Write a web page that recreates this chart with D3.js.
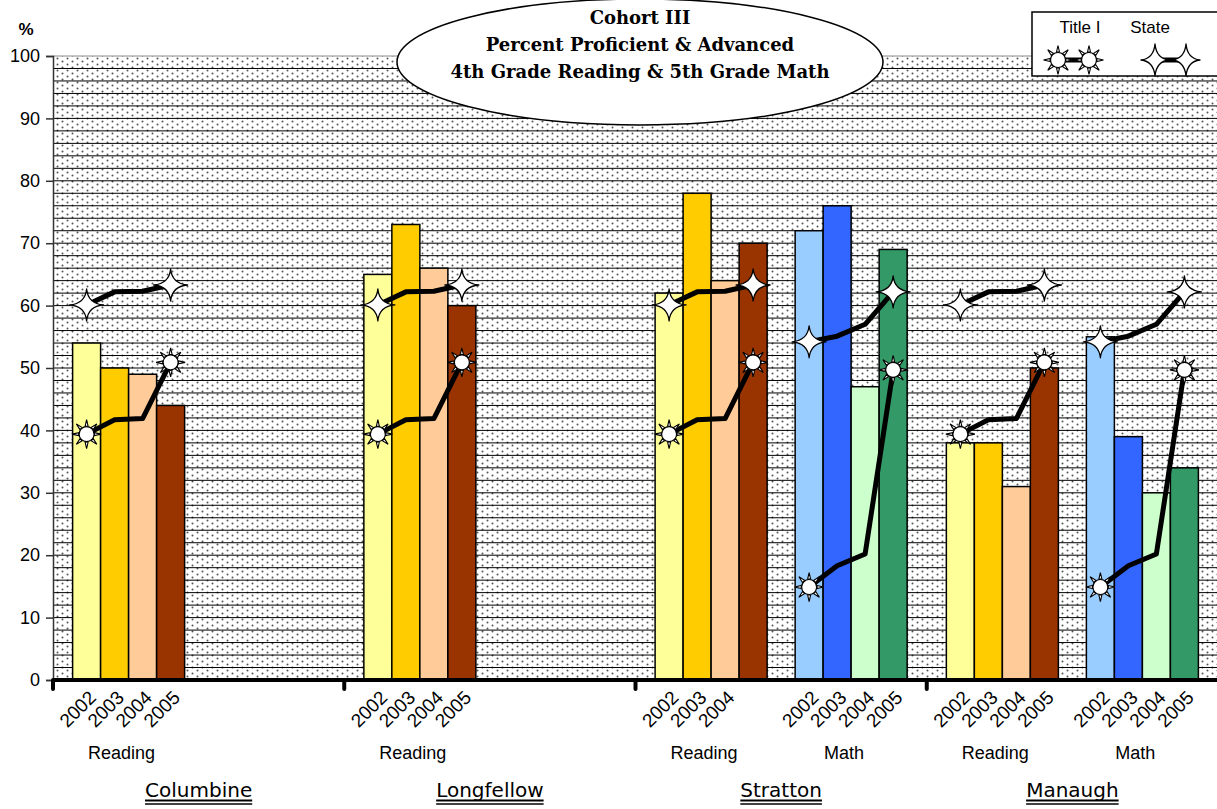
<!DOCTYPE html>
<html>
<head>
<meta charset="utf-8">
<script src="https://cdn.jsdelivr.net/npm/d3@7"></script>
<style>
  body { margin: 0; background: #fff; }
  svg { display: block; }
</style>
</head>
<body>
<svg id="chart" width="1217" height="809"></svg>
<script>
// ---- data ----
const schools = ["Columbine", "Longfellow", "Stratton", "Manaugh"];
const years = ["2002", "2003", "2004", "2005"];
const subjects = ["Reading", "Math"];

// percent proficient & advanced, per school, 2002-2005 (null = not tested)
const readingValues = [
  [54, 50, 49, 44],
  [65, 73, 66, 60],
  [62, 78, 64, 70],
  [38, 38, 31, 50]
];
const mathValues = [
  null,
  null,
  [72, 76, 47, 69],
  [55, 39, 30, 34]
];

// comparison lines (same for every school)
const titleIReading = [39.4, 41.7, 41.9, 50.9];
const stateReading = [60.1, 62.2, 62.3, 63.3];
const titleIMath = [14.9, 18.3, 20.2, 49.7];
const stateMath = [54.2, 55.1, 57.0, 62.2];

// year labels printed under each bar group
const readingYearLabels = [years, years, ["2002", "2003", "2004"], years];
const mathYearLabels = [[], [], years, years];

const readingColors = ["#FFFF99", "#FFCC00", "#FFCC99", "#993300"];
const mathColors = ["#99CCFF", "#3366FF", "#CCFFCC", "#339966"];

const yTicks = [0, 10, 20, 30, 40, 50, 60, 70, 80, 90, 100];
const titleLines = ["Cohort III", "Percent Proficient & Advanced", "4th Grade Reading & 5th Grade Math"];
const legendLabels = ["Title I", "State"];

// ---- layout ----
const svg = d3.select("#chart");
const plotL = 53, plotT = 56, plotR = 1218, plotB = 680;

const y = d3.scaleLinear().domain([0, 100]).range([plotB, plotT]);
const xSchool = d3.scaleBand().domain(schools).range([plotL, plotR]).padding(0);
const slots = ["R0", "R1", "R2", "R3", "gap", "M0", "M1", "M2", "M3"];
const xSlot = d3.scaleBand().domain(slots).range([0, xSchool.bandwidth()])
  .paddingInner(0).paddingOuter(0.7);
const bw = xSlot.bandwidth();
const slotCenter = (si, prefix, i) => xSchool(schools[si]) + xSlot(prefix + i) + bw / 2;

// ---- background pattern ----
const defs = svg.append("defs");
const pat = defs.append("pattern").attr("id", "dots")
  .attr("width", 10).attr("height", 6).attr("patternUnits", "userSpaceOnUse");
pat.append("rect").attr("width", 10).attr("height", 6).attr("fill", "#fff");
pat.append("circle").attr("cx", 2.5).attr("cy", 1.5).attr("r", 1).attr("fill", "#555");
pat.append("circle").attr("cx", 7.5).attr("cy", 4.5).attr("r", 1).attr("fill", "#555");

svg.append("rect").attr("x", plotL).attr("y", plotT)
  .attr("width", plotR - plotL).attr("height", plotB - plotT)
  .attr("fill", "url(#dots)");

// gridlines every 2 %
svg.append("g").selectAll("line")
  .data(d3.range(2, 100, 2))
  .join("line")
  .attr("x1", plotL).attr("x2", plotR)
  .attr("y1", d => y(d)).attr("y2", d => y(d))
  .attr("stroke", "#000").attr("stroke-width", 1);
svg.append("line").attr("x1", plotL).attr("x2", plotR)
  .attr("y1", plotT).attr("y2", plotT).attr("stroke", "#888").attr("stroke-width", 1);

// ---- bars ----
const barData = [];
schools.forEach((s, si) => {
  readingValues[si].forEach((v, i) => barData.push({ si, x: xSchool(s) + xSlot("R" + i), v, c: readingColors[i] }));
  if (mathValues[si]) mathValues[si].forEach((v, i) => barData.push({ si, x: xSchool(s) + xSlot("M" + i), v, c: mathColors[i] }));
});
svg.append("g").selectAll("rect")
  .data(barData)
  .join("rect")
  .attr("x", d => d.x).attr("y", d => y(d.v))
  .attr("width", bw).attr("height", d => y(0) - y(d.v))
  .attr("fill", d => d.c).attr("stroke", "#000").attr("stroke-width", 1.5);

// ---- y axis ----
const font = "Liberation Sans, Arial, sans-serif";
const yAxis = svg.append("g").attr("transform", `translate(${plotL},0)`)
  .call(d3.axisLeft(y).tickValues(yTicks).tickSize(7).tickPadding(6));
yAxis.select(".domain").attr("stroke", "#333").attr("stroke-width", 1.5);
yAxis.selectAll(".tick line").attr("stroke", "#333").attr("stroke-width", 1.5);
yAxis.selectAll(".tick text").attr("font-family", font)
  .attr("font-size", 18).attr("fill", "#000");
svg.append("text").attr("x", 26).attr("y", 35).attr("text-anchor", "middle")
  .attr("font-family", font).attr("font-weight", "bold")
  .attr("font-size", 17).text("%");

// ---- x axis ----
svg.append("line").attr("x1", plotL).attr("x2", plotR).attr("y1", plotB).attr("y2", plotB)
  .attr("stroke", "#000").attr("stroke-width", 4);
svg.append("g").selectAll("line")
  .data(schools)
  .join("line")
  .attr("x1", d => xSchool(d)).attr("x2", d => xSchool(d))
  .attr("y1", plotB).attr("y2", plotB + 9)
  .attr("stroke", "#000").attr("stroke-width", 4).attr("stroke-linecap", "round");

// ---- markers ----
function sunPath(r0, r1, spread) {
  const p = d3.path();
  for (let k = 0; k < 8; k++) {
    const a = k * Math.PI / 4;
    p.moveTo(Math.cos(a - spread) * r0, Math.sin(a - spread) * r0);
    p.lineTo(Math.cos(a) * r1, Math.sin(a) * r1);
    p.lineTo(Math.cos(a + spread) * r0, Math.sin(a + spread) * r0);
    p.closePath();
  }
  return p.toString();
}
const sunRays = sunPath(8, 14.5, 0.19);
function drawSun(g, cx, cy) {
  const m = g.append("g").attr("transform", `translate(${cx},${cy})`);
  m.append("path").attr("d", sunRays).attr("fill", "#fff").attr("stroke", "#000").attr("stroke-width", 1.1);
  m.append("circle").attr("r", 7.5).attr("fill", "#fff").attr("stroke", "#000").attr("stroke-width", 1.2);
}
function drawStar(g, cx, cy, rx, ry) {
  const k = 1.4;
  const d = `M0,${-ry} Q${k},${-k} ${rx},0 Q${k},${k} 0,${ry} Q${-k},${k} ${-rx},0 Q${-k},${-k} 0,${-ry}Z`;
  g.append("path").attr("transform", `translate(${cx},${cy})`).attr("d", d)
    .attr("fill", "#fff").attr("stroke", "#000").attr("stroke-width", 1.3).attr("stroke-linejoin", "round");
}

// ---- trend lines ----
const lineGen = d3.line().x(d => d[0]).y(d => y(d[1]));
const lines = svg.append("g");
const markers = svg.append("g");
function trend(si, prefix, vals, kind) {
  const pts = vals.map((v, i) => [slotCenter(si, prefix, i), v]);
  lines.append("path").attr("d", lineGen(pts)).attr("fill", "none")
    .attr("stroke", "#000").attr("stroke-width", 5).attr("stroke-linejoin", "round");
  [pts[0], pts[pts.length - 1]].forEach(p => {
    if (kind === "sun") drawSun(markers, p[0], y(p[1]));
    else drawStar(markers, p[0], y(p[1]), 17, 16);
  });
}
schools.forEach((s, si) => {
  trend(si, "R", stateReading, "star");
  trend(si, "R", titleIReading, "sun");
  if (mathValues[si]) {
    trend(si, "M", stateMath, "star");
    trend(si, "M", titleIMath, "sun");
  }
});

// ---- category labels ----
const labels = svg.append("g").attr("font-family", font).attr("fill", "#000");
schools.forEach((s, si) => {
  [["R", readingYearLabels[si]], ["M", mathYearLabels[si]]].forEach(([prefix, labs]) => {
    labs.forEach((t, i) => {
      const cx = slotCenter(si, prefix, i);
      labels.append("text")
        .attr("transform", `translate(${cx + 1},${plotB + 9}) rotate(-45)`)
        .attr("text-anchor", "end").attr("dy", "0.72em")
        .attr("font-size", 19).text(t);
    });
  });
  const groups = [["R", "Reading", true], ["M", "Math", !!mathValues[si]]];
  groups.forEach(([prefix, name, show]) => {
    if (!show) return;
    const gc = (slotCenter(si, prefix, 0) + slotCenter(si, prefix, 3)) / 2;
    labels.append("text").attr("x", gc - 7).attr("y", 759)
      .attr("text-anchor", "middle").attr("font-size", 18).text(name);
  });
});

// school names, double underlined
const names = svg.append("g");
schools.forEach(s => {
  const cx = xSchool(s) + xSchool.bandwidth() / 2;
  const t = names.append("text").attr("x", cx).attr("y", 797).attr("text-anchor", "middle")
    .attr("font-family", "'Comic Sans MS', 'DejaVu Sans', sans-serif").attr("font-size", 20)
    .text(s);
  const w = t.node().getComputedTextLength();
  [800.5, 804].forEach((yy, j) => names.append("line")
    .attr("x1", cx - w / 2).attr("x2", cx + w / 2).attr("y1", yy).attr("y2", yy)
    .attr("stroke", "#000").attr("stroke-width", j === 0 ? 2 : 1.5));
});

// ---- title ellipse ----
svg.append("ellipse").attr("cx", 640).attr("cy", 62).attr("rx", 243).attr("ry", 63)
  .attr("fill", "#fff").attr("stroke", "#000").attr("stroke-width", 1.5);
svg.append("g").selectAll("text")
  .data(titleLines)
  .join("text")
  .attr("x", 640).attr("y", (d, i) => 24 + i * 27)
  .attr("text-anchor", "middle")
  .attr("font-family", "'Palatino Linotype', 'DejaVu Serif', serif")
  .attr("font-weight", "bold").attr("font-size", 18)
  .text(d => d);

// ---- legend ----
const lg = svg.append("g");
lg.append("rect").attr("x", 1032).attr("y", 12).attr("width", 200).attr("height", 64)
  .attr("fill", "#fff").attr("stroke", "#000").attr("stroke-width", 1.5);
lg.selectAll("text.lab").data(legendLabels).join("text")
  .attr("x", (d, i) => i === 0 ? 1080 : 1150).attr("y", 33)
  .attr("text-anchor", "middle").attr("font-family", font).attr("font-size", 17)
  .text(d => d);
lg.append("line").attr("x1", 1058).attr("x2", 1089).attr("y1", 60).attr("y2", 60)
  .attr("stroke", "#000").attr("stroke-width", 5);
drawSun(lg, 1058, 60); drawSun(lg, 1089, 60);
lg.append("line").attr("x1", 1155).attr("x2", 1186).attr("y1", 60).attr("y2", 60)
  .attr("stroke", "#000").attr("stroke-width", 5);
drawStar(lg, 1155, 60, 14, 16); drawStar(lg, 1186, 60, 14, 16);
</script>
</body>
</html>
